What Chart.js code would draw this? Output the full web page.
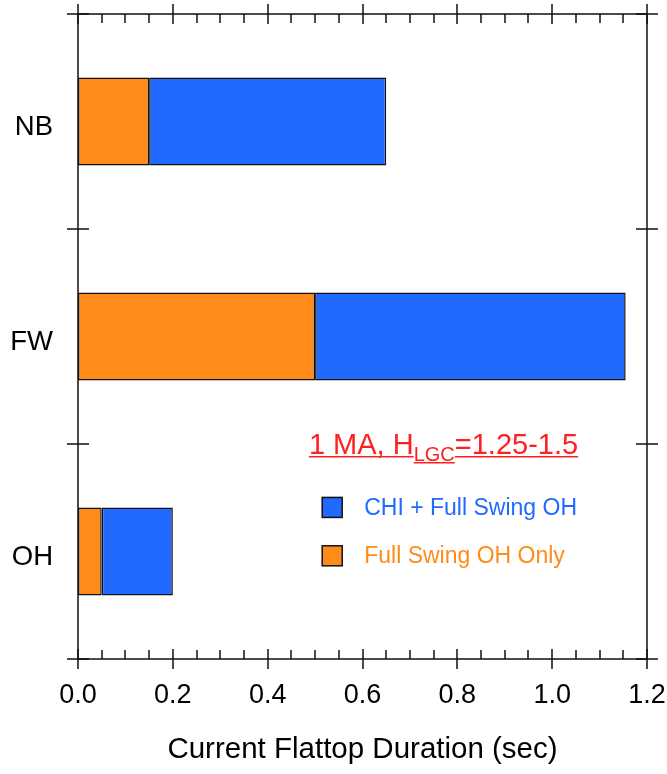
<!DOCTYPE html>
<html>
<head>
<meta charset="utf-8">
<script src="https://cdn.jsdelivr.net/npm/chart.js@4.4.1/dist/chart.umd.min.js"></script>
<style>
  html, body { margin: 0; padding: 0; background: #fff; }
  canvas { display: block; }
</style>
</head>
<body>
<canvas id="chart" width="667" height="774"></canvas>
<script>
// categories, top to bottom
const categories = ['NB', 'FW', 'OH'];
// stacked segment lengths (sec)
const fullSwingOnly = [0.15, 0.50, 0.05];
const chiPlusFullSwing = [0.50, 0.655, 0.15];
const xTickValues = [0, 0.2, 0.4, 0.6, 0.8, 1.0, 1.2];
const xMinorStep = 0.05;

const seriesNames = ['Full Swing OH Only', 'CHI + Full Swing OH'];
const annotationMain = ['1 MA, H', 'LGC', '=1.25-1.5'];

const ORANGE = '#FF8C1A';
const BLUE = '#216AFF';
const RED = '#FF1F1F';
const FONT = '"Liberation Sans", Arial, sans-serif';

// frame with ticks on all four sides (major cross the axis, minor point inward)
const framePlugin = {
    id: 'frame',
    afterDatasetsDraw(chart) {
        const { ctx, chartArea: a, scales: { x, y } } = chart;
        ctx.save();
        ctx.strokeStyle = '#111';
        ctx.lineWidth = 1.5;
        ctx.strokeRect(a.left, a.top, a.right - a.left, a.bottom - a.top);

        ctx.beginPath();
        const xmax = xTickValues[xTickValues.length - 1];
        for (let v = 0; v <= xmax + 1e-9; v += xMinorStep) {
            const px = Math.round(x.getPixelForValue(v));
            const major = xTickValues.some(t => Math.abs(t - v) < 1e-6);
            if (major) {
                ctx.moveTo(px, a.bottom - 10); ctx.lineTo(px, a.bottom + 10);
                ctx.moveTo(px, a.top - 10); ctx.lineTo(px, a.top + 10);
            } else {
                ctx.moveTo(px, a.bottom); ctx.lineTo(px, a.bottom - 9);
                ctx.moveTo(px, a.top); ctx.lineTo(px, a.top + 9);
            }
        }
        // category boundaries on the y sides
        for (let i = 0; i <= categories.length; i++) {
            const py = Math.round(y.getPixelForValue(i - 0.5));
            ctx.moveTo(a.left - 11, py); ctx.lineTo(a.left + 11, py);
            ctx.moveTo(a.right - 11, py); ctx.lineTo(a.right + 11, py);
        }
        ctx.stroke();
        ctx.restore();
    }
};

// in-plot annotation + legend
const notePlugin = {
    id: 'note',
    afterDraw(chart) {
        const { ctx, scales: { x, y } } = chart;
        ctx.save();
        // title line
        let px = x.getPixelForValue(0.487);
        const base = y.getPixelForValue(1.545);
        ctx.fillStyle = RED;
        ctx.strokeStyle = RED;
        ctx.lineWidth = 1.5;
        ctx.textBaseline = 'alphabetic';
        ctx.textAlign = 'left';

        ctx.font = '29px ' + FONT;
        let w = ctx.measureText(annotationMain[0]).width;
        ctx.fillText(annotationMain[0], px, base);
        ctx.beginPath(); ctx.moveTo(px, base + 3); ctx.lineTo(px + w, base + 3); ctx.stroke();
        px += w;

        ctx.font = '20px ' + FONT;
        w = ctx.measureText(annotationMain[1]).width;
        ctx.fillText(annotationMain[1], px, base + 7);
        ctx.beginPath(); ctx.moveTo(px, base + 9); ctx.lineTo(px + w, base + 9); ctx.stroke();
        px += w;

        ctx.font = '29px ' + FONT;
        w = ctx.measureText(annotationMain[2]).width;
        ctx.fillText(annotationMain[2], px, base);
        ctx.beginPath(); ctx.moveTo(px, base + 3); ctx.lineTo(px + w, base + 3); ctx.stroke();

        // legend (blue first)
        const rows = [
            { label: seriesNames[1], color: BLUE, at: 1.795 },
            { label: seriesNames[0], color: ORANGE, at: 2.02 }
        ];
        const sx = x.getPixelForValue(0.515);
        ctx.font = '23px ' + FONT;
        ctx.textBaseline = 'middle';
        rows.forEach(r => {
            const cy = y.getPixelForValue(r.at);
            ctx.fillStyle = r.color;
            ctx.fillRect(sx, cy - 10, 20, 20);
            ctx.strokeStyle = '#111';
            ctx.lineWidth = 1.5;
            ctx.strokeRect(sx, cy - 10, 20, 20);
            ctx.fillStyle = r.color;
            ctx.fillText(r.label, sx + 42, cy + 1);
        });
        ctx.restore();
    }
};

new Chart(document.getElementById('chart'), {
    type: 'bar',
    data: {
        labels: categories,
        datasets: [
            {
                label: seriesNames[0],
                data: fullSwingOnly,
                backgroundColor: ORANGE,
                borderColor: '#111',
                borderWidth: 1.5,
                borderSkipped: false,
                barPercentage: 0.41,
                categoryPercentage: 1
            },
            {
                label: seriesNames[1],
                data: chiPlusFullSwing,
                backgroundColor: BLUE,
                borderColor: '#111',
                borderWidth: 1.5,
                borderSkipped: false,
                barPercentage: 0.41,
                categoryPercentage: 1
            }
        ]
    },
    options: {
        indexAxis: 'y',
        responsive: false,
        animation: false,
        layout: { padding: { left: 0, right: 20, top: 14, bottom: 0 } },
        scales: {
            x: {
                stacked: true,
                min: 0,
                max: 1.2,
                grid: { display: false, drawTicks: false },
                border: { display: false },
                afterBuildTicks: (scale) => { scale.ticks = xTickValues.map(v => ({ value: v })); },
                afterFit: (scale) => { scale.height = 115; scale.paddingLeft = 0; scale.paddingRight = 0; },
                ticks: {
                    color: '#000',
                    padding: 20,
                    font: { family: FONT, size: 27 },
                    maxRotation: 0,
                    callback: (v) => Number(v).toFixed(1)
                },
                title: {
                    display: true,
                    text: 'Current Flattop Duration (sec)',
                    color: '#000',
                    font: { family: FONT, size: 29.5 },
                    padding: { top: 0, bottom: 6 }
                }
            },
            y: {
                stacked: true,
                grid: { display: false, drawTicks: false },
                border: { display: false },
                afterFit: (scale) => { scale.width = 78; scale.paddingTop = 0; scale.paddingBottom = 0; },
                ticks: {
                    color: '#000',
                    padding: 25,
                    labelOffset: 6,
                    font: { family: FONT, size: 27.5 }
                }
            }
        },
        plugins: {
            legend: { display: false },
            tooltip: { enabled: false }
        }
    },
    plugins: [framePlugin, notePlugin]
});
</script>
</body>
</html>
